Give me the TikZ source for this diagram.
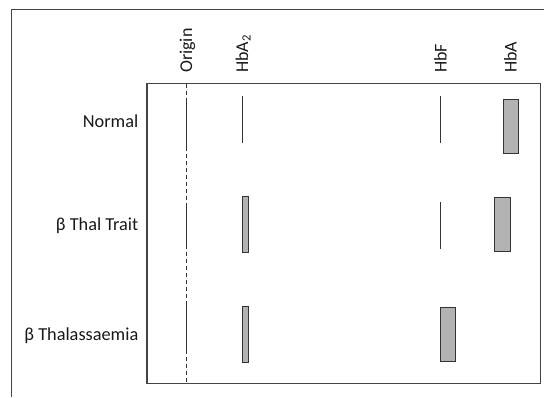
\documentclass[tikz,border=0pt]{standalone}
\usepackage{fontspec}
\setmainfont{Carlito}
\definecolor{bandgrey}{RGB}{179,179,179}
\definecolor{inkgrey}{RGB}{51,51,51}
\definecolor{framegrey}{RGB}{68,68,68}
\newcommand{\hbline}[3]{\draw[inkgrey,line width=0.9pt] (#1,#2) -- (#1,#3);}
\newcommand{\hbband}[4]{\filldraw[fill=bandgrey,draw=inkgrey,line width=0.9pt] (#1,#2) rectangle (#3,#4);}
\tikzset{
  lanelabel/.style={font=\fontsize{18.3}{21}\selectfont,text=black!90,inner sep=0pt,anchor=base east},
  spotlabel/.style={font=\fontsize{18}{21}\selectfont,text=black!90,inner sep=0pt,anchor=base west,rotate=90},
}

\begin{document}
\begin{tikzpicture}[x=1pt,y=-1pt]
\useasboundingbox (0,0) rectangle (544,397);
\draw[framegrey,line width=1.2pt] (11.5,397) -- (11.5,9.5) -- (544,9.5);
\draw[framegrey,line width=1.2pt] (147,83.5) rectangle (540.5,383.5);
\draw[inkgrey,line width=0.9pt,dash pattern=on 4pt off 3pt] (186.7,83.5) -- (186.7,383.5);
% spot names
\node[spotlabel] (origin) at (192,73) {Origin};
\node[spotlabel] (hba2) at (248,73) {HbA\textsubscript{2}};
\node[spotlabel] (hbf) at (446.5,73) {HbF};
\node[spotlabel] (hba) at (516.5,73) {HbA};
% lanes
\node[lanelabel] (normal) at (138.5,127) {Normal};
\node[lanelabel] (trait) at (138.5,230.7) {β Thal Trait};
\node[lanelabel] (thal) at (138.5,340.7) {β Thalassaemia};
% normal
\hbline{186.7}{101}{147}
\hbline{242.7}{96}{143}
\hbline{440}{96}{143}
\hbband{503}{99}{518.7}{153}
% trait
\hbline{186.7}{203}{249}
\hbband{242.7}{196.3}{248.7}{252.3}
\hbline{440}{202}{249}
\hbband{494.3}{197}{510}{251}
% thalassaemia
\hbline{186.7}{304}{351}
\hbband{242.7}{306.3}{248.7}{362.3}
\hbband{440}{307}{455.7}{361}
\end{tikzpicture}
\end{document}
